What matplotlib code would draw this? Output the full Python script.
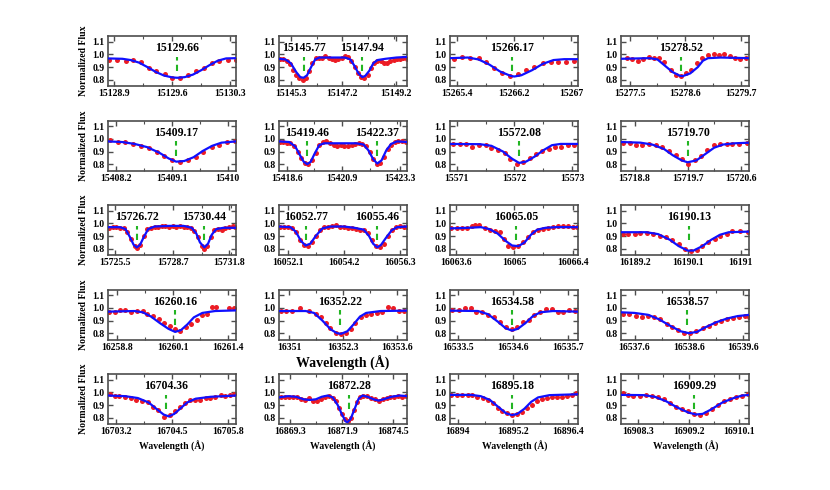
import numpy as np
import matplotlib
matplotlib.use('Agg')
from matplotlib import pyplot as plt
from matplotlib.ticker import AutoMinorLocator

plt.rcParams['font.family'] = ['Liberation Serif', 'DejaVu Serif']
plt.rcParams['font.weight'] = 'bold'
plt.rcParams['axes.labelweight'] = 'bold'

# line centres (labels), one list per panel
centers = [
    [15129.66], [15145.77, 15147.94], [15266.17], [15278.52],
    [15409.17], [15419.46, 15422.37], [15572.08], [15719.70],
    [15726.72, 15730.44], [16052.77, 16055.46], [16065.05], [16190.13],
    [16260.16], [16352.22], [16534.58], [16538.57],
    [16704.36], [16872.28], [16895.18], [16909.29],
]

xticks = [
    [15128.9, 15129.6, 15130.3], [15145.3, 15147.2, 15149.2], [15265.4, 15266.2, 15267], [15277.5, 15278.6, 15279.7],
    [15408.2, 15409.1, 15410], [15418.6, 15420.9, 15423.3], [15571, 15572, 15573], [15718.8, 15719.7, 15720.6],
    [15725.5, 15728.7, 15731.8], [16052.1, 16054.2, 16056.3], [16063.6, 16065, 16066.4], [16189.2, 16190.1, 16191],
    [16258.8, 16260.1, 16261.4], [16351, 16352.3, 16353.6], [16533.5, 16534.6, 16535.7], [16537.6, 16538.6, 16539.6],
    [16703.2, 16704.5, 16705.8], [16869.3, 16871.9, 16874.5], [16894, 16895.2, 16896.4], [16908.3, 16909.2, 16910.1],
]

xlims = [
    (15128.825, 15130.374), (15144.86, 15149.61), (15265.30, 15267.10), (15277.33, 15279.87),
    (15408.07, 15410.14), (15418.27, 15423.63), (15570.88, 15573.11), (15718.57, 15720.75),
    (15725.13, 15732.21), (16051.77, 16056.59), (16063.46, 16066.54), (16188.97, 16191.15),
    (16258.58, 16261.60), (16350.76, 16353.84), (16533.34, 16535.91), (16537.35, 16539.72),
    (16703.00, 16706.00), (16868.75, 16875.20), (16893.83, 16896.63), (16908.00, 16910.28),
]

# observed spectrum (red dots)
obs_wave = [
    [15128.84, 15128.94, 15129.04, 15129.13, 15129.22, 15129.32, 15129.41, 15129.51, 15129.60,
     15129.70, 15129.79, 15129.89, 15129.98, 15130.08, 15130.17, 15130.27, 15130.37],
    [15144.90, 15145.02, 15145.14, 15145.26, 15145.38, 15145.50, 15145.62, 15145.74, 15145.86, 15145.98,
     15146.10, 15146.22, 15146.34, 15146.46, 15146.58, 15146.70, 15146.82, 15146.94, 15147.06, 15147.18,
     15147.30, 15147.42, 15147.54, 15147.66, 15147.78, 15147.90, 15148.02, 15148.14, 15148.26, 15148.38,
     15148.50, 15148.62, 15148.74, 15148.86, 15148.98, 15149.10, 15149.22, 15149.34, 15149.46, 15149.58],
    [15265.35, 15265.47, 15265.58, 15265.70, 15265.81, 15265.91, 15266.03, 15266.14, 15266.25, 15266.37,
     15266.48, 15266.60, 15266.71, 15266.81, 15266.92, 15267.04],
    [15277.44, 15277.55, 15277.66, 15277.76, 15277.88, 15277.98, 15278.09, 15278.19, 15278.31, 15278.41,
     15278.51, 15278.62, 15278.72, 15278.83, 15278.94, 15279.05, 15279.16, 15279.27, 15279.37, 15279.48,
     15279.59, 15279.69, 15279.81],
    [15408.10, 15408.23, 15408.35, 15408.48, 15408.61, 15408.73, 15408.86, 15408.98, 15409.11, 15409.23,
     15409.36, 15409.49, 15409.61, 15409.74, 15409.86, 15409.99, 15410.11],
    [15418.30, 15418.45, 15418.60, 15418.75, 15418.90, 15419.05, 15419.20, 15419.35, 15419.50, 15419.65,
     15419.80, 15419.95, 15420.10, 15420.25, 15420.40, 15420.55, 15420.70, 15420.85, 15421.00, 15421.15,
     15421.30, 15421.45, 15421.60, 15421.75, 15421.90, 15422.05, 15422.20, 15422.35, 15422.50, 15422.65,
     15422.80, 15422.95, 15423.10, 15423.25, 15423.40, 15423.55],
    [15570.93, 15571.06, 15571.15, 15571.26, 15571.38, 15571.50, 15571.60, 15571.71, 15571.83, 15571.93,
     15572.05, 15572.15, 15572.27, 15572.37, 15572.48, 15572.60, 15572.70, 15572.81, 15572.92, 15573.04],
    [15718.61, 15718.72, 15718.82, 15718.93, 15719.05, 15719.16, 15719.26, 15719.39, 15719.51, 15719.61,
     15719.71, 15719.82, 15719.93, 15720.03, 15720.14, 15720.25, 15720.36, 15720.46, 15720.57, 15720.70],
    [15725.20, 15725.40, 15725.60, 15725.80, 15726.00, 15726.20, 15726.40, 15726.60, 15726.75, 15726.90,
     15727.10, 15727.30, 15727.50, 15727.70, 15727.90, 15728.10, 15728.30, 15728.50, 15728.70, 15728.90,
     15729.10, 15729.30, 15729.50, 15729.70, 15729.90, 15730.10, 15730.30, 15730.45, 15730.60, 15730.80,
     15731.00, 15731.20, 15731.40, 15731.60, 15731.80, 15732.00, 15732.15],
    [16051.80, 16051.95, 16052.10, 16052.25, 16052.40, 16052.55, 16052.70, 16052.85, 16053.00, 16053.15,
     16053.30, 16053.45, 16053.60, 16053.75, 16053.90, 16054.05, 16054.20, 16054.35, 16054.50, 16054.65,
     16054.80, 16054.95, 16055.10, 16055.25, 16055.40, 16055.55, 16055.70, 16055.85, 16056.00, 16056.15,
     16056.30, 16056.45, 16056.58],
    [16063.48, 16063.62, 16063.74, 16063.86, 16063.98, 16064.06, 16064.16, 16064.30, 16064.42, 16064.54,
     16064.66, 16064.76, 16064.86, 16064.98, 16065.08, 16065.20, 16065.32, 16065.44, 16065.56, 16065.68,
     16065.80, 16065.92, 16066.04, 16066.16, 16066.28, 16066.40, 16066.50],
    [16189.01, 16189.09, 16189.20, 16189.30, 16189.41, 16189.52, 16189.63, 16189.73, 16189.84, 16189.95,
     16190.06, 16190.16, 16190.26, 16190.35, 16190.45, 16190.56, 16190.65, 16190.76, 16190.86, 16190.99,
     16191.12],
    [16258.61, 16258.74, 16258.87, 16258.99, 16259.13, 16259.26, 16259.40, 16259.51, 16259.64, 16259.77,
     16259.91, 16260.03, 16260.16, 16260.28, 16260.42, 16260.54, 16260.67, 16260.79, 16260.91, 16261.03,
     16261.11, 16261.42, 16261.54],
    [16350.80, 16350.94, 16351.08, 16351.26, 16351.48, 16351.64, 16351.76, 16351.88, 16351.98, 16352.12,
     16352.24, 16352.36, 16352.48, 16352.58, 16352.72, 16352.84, 16352.96, 16353.10, 16353.24, 16353.38,
     16353.50, 16353.64, 16353.76],
    [16533.39, 16533.53, 16533.65, 16533.76, 16533.87, 16533.99, 16534.11, 16534.23, 16534.34, 16534.46,
     16534.58, 16534.68, 16534.80, 16534.92, 16535.03, 16535.14, 16535.26, 16535.38, 16535.50, 16535.61,
     16535.73, 16535.85],
    [16537.38, 16537.49, 16537.62, 16537.73, 16537.84, 16537.95, 16538.07, 16538.19, 16538.30, 16538.41,
     16538.52, 16538.63, 16538.74, 16538.86, 16538.97, 16539.08, 16539.19, 16539.30, 16539.41, 16539.52,
     16539.64, 16539.72],
    [16703.04, 16703.16, 16703.27, 16703.41, 16703.54, 16703.66, 16703.79, 16703.93, 16704.05, 16704.18,
     16704.32, 16704.44, 16704.57, 16704.69, 16704.81, 16704.92, 16705.04, 16705.16, 16705.28, 16705.39,
     16705.51, 16705.63, 16705.74, 16705.86, 16705.94],
    [16868.85, 16869.05, 16869.25, 16869.45, 16869.65, 16869.85, 16870.05, 16870.25, 16870.45, 16870.65,
     16870.85, 16871.05, 16871.25, 16871.45, 16871.60, 16871.75, 16871.90, 16872.05, 16872.20, 16872.35,
     16872.50, 16872.65, 16872.80, 16872.95, 16873.15, 16873.35, 16873.55, 16873.75, 16873.95, 16874.15,
     16874.35, 16874.55, 16874.75, 16874.95, 16875.15],
    [16893.85, 16893.98, 16894.09, 16894.22, 16894.32, 16894.43, 16894.54, 16894.65, 16894.76, 16894.87,
     16894.96, 16895.07, 16895.18, 16895.28, 16895.39, 16895.50, 16895.61, 16895.72, 16895.83, 16895.94,
     16896.06, 16896.16, 16896.27, 16896.38, 16896.49, 16896.58],
    [16908.03, 16908.13, 16908.22, 16908.33, 16908.45, 16908.55, 16908.66, 16908.76, 16908.87, 16908.98,
     16909.08, 16909.19, 16909.29, 16909.40, 16909.51, 16909.61, 16909.72, 16909.82, 16909.93, 16910.04,
     16910.14, 16910.25],
]

obs_flux = [
    [0.956, 0.956, 0.949, 0.956, 0.938, 0.896, 0.865, 0.842, 0.813, 0.815, 0.839, 0.870, 0.896, 0.928,
     0.946, 0.956, 0.954],
    [0.965, 0.960, 0.950, 0.920, 0.880, 0.840, 0.810, 0.800, 0.815, 0.870, 0.930, 0.970, 0.975, 0.975,
     0.985, 0.970, 0.960, 0.955, 0.960, 0.970, 0.985, 0.980, 0.950, 0.900, 0.850, 0.820, 0.810, 0.840,
     0.890, 0.930, 0.950, 0.945, 0.935, 0.930, 0.945, 0.955, 0.960, 0.965, 0.970, 0.965],
    [0.962, 0.977, 0.975, 0.969, 0.938, 0.891, 0.852, 0.831, 0.844, 0.873, 0.901, 0.930, 0.941, 0.943,
     0.936, 0.951],
    [0.969, 0.964, 0.949, 0.962, 0.983, 0.975, 0.975, 0.941, 0.878, 0.834, 0.831, 0.852, 0.878, 0.930,
     0.969, 0.998, 1.003, 0.998, 1.006, 0.988, 0.975, 0.964, 0.969],
    [0.988, 0.977, 0.972, 0.958, 0.940, 0.928, 0.900, 0.865, 0.832, 0.815, 0.832, 0.860, 0.898, 0.932,
     0.955, 0.974, 0.980],
    [0.975, 0.975, 0.970, 0.965, 0.940, 0.900, 0.850, 0.810, 0.800, 0.830, 0.890, 0.950, 0.975, 0.980,
     0.965, 0.955, 0.945, 0.950, 0.940, 0.945, 0.950, 0.960, 0.965, 0.960, 0.940, 0.900, 0.840, 0.800,
     0.810, 0.860, 0.920, 0.955, 0.975, 0.985, 0.980, 0.975],
    [0.962, 0.956, 0.956, 0.935, 0.951, 0.951, 0.925, 0.909, 0.886, 0.839, 0.805, 0.821, 0.847, 0.883,
     0.904, 0.922, 0.935, 0.935, 0.954, 0.951],
    [0.969, 0.969, 0.948, 0.948, 0.962, 0.951, 0.935, 0.904, 0.870, 0.839, 0.805, 0.831, 0.865, 0.909,
     0.948, 0.956, 0.956, 0.962, 0.962, 0.967],
    [0.965, 0.970, 0.975, 0.965, 0.960, 0.935, 0.880, 0.820, 0.805, 0.830, 0.900, 0.955, 0.965, 0.970,
     0.975, 0.980, 0.980, 0.975, 0.980, 0.975, 0.980, 0.975, 0.970, 0.965, 0.940, 0.890, 0.820, 0.800,
     0.820, 0.890, 0.945, 0.955, 0.950, 0.965, 0.975, 0.980, 0.970],
    [0.975, 0.970, 0.975, 0.960, 0.930, 0.870, 0.830, 0.820, 0.850, 0.900, 0.945, 0.970, 0.975, 0.980,
     0.985, 0.975, 0.970, 0.965, 0.960, 0.955, 0.950, 0.945, 0.920, 0.870, 0.820, 0.810, 0.840, 0.900,
     0.950, 0.970, 0.980, 0.975, 0.970],
    [0.960, 0.960, 0.960, 0.965, 0.980, 0.985, 0.990, 0.965, 0.950, 0.940, 0.930, 0.875, 0.820, 0.815,
     0.820, 0.850, 0.890, 0.930, 0.945, 0.955, 0.960, 0.975, 0.980, 0.980, 0.980, 0.975, 0.970],
    [0.917, 0.912, 0.912, 0.922, 0.922, 0.912, 0.904, 0.896, 0.865, 0.839, 0.800, 0.785, 0.790, 0.820,
     0.850, 0.880, 0.900, 0.912, 0.943, 0.943, 0.930],
    [0.968, 0.968, 0.984, 0.982, 0.968, 0.974, 0.974, 0.955, 0.934, 0.913, 0.882, 0.855, 0.830, 0.820,
     0.850, 0.876, 0.908, 0.947, 0.955, 1.003, 1.008, 0.997, 0.995],
    [0.974, 0.974, 0.976, 0.997, 0.976, 0.955, 0.924, 0.882, 0.837, 0.800, 0.795, 0.800, 0.835, 0.882,
     0.924, 0.942, 0.955, 0.963, 0.968, 1.003, 0.997, 0.976, 0.974],
    [0.982, 0.982, 0.995, 0.995, 0.968, 0.968, 0.947, 0.924, 0.889, 0.850, 0.832, 0.845, 0.889, 0.908,
     0.947, 0.968, 0.992, 0.992, 0.968, 0.968, 0.982, 0.976],
    [0.952, 0.950, 0.935, 0.930, 0.932, 0.925, 0.910, 0.870, 0.845, 0.825, 0.800, 0.800, 0.815, 0.840,
     0.860, 0.878, 0.895, 0.910, 0.918, 0.925, 0.935, 0.930],
    [0.984, 0.968, 0.968, 0.963, 0.955, 0.942, 0.932, 0.924, 0.884, 0.858, 0.805, 0.818, 0.850, 0.884,
     0.918, 0.937, 0.937, 0.942, 0.958, 0.958, 0.963, 0.976, 0.971, 0.976, 0.984],
    [0.960, 0.965, 0.965, 0.960, 0.965, 0.950, 0.940, 0.955, 0.935, 0.930, 0.950, 0.965, 0.970, 0.955,
     0.930, 0.880, 0.830, 0.790, 0.770, 0.800, 0.860, 0.920, 0.960, 0.975, 0.970, 0.955, 0.945, 0.935,
     0.945, 0.955, 0.960, 0.965, 0.970, 0.965, 0.970],
    [0.981, 0.981, 0.981, 0.981, 0.981, 0.967, 0.959, 0.941, 0.914, 0.880, 0.856, 0.835, 0.821, 0.829,
     0.848, 0.875, 0.901, 0.928, 0.946, 0.959, 0.965, 0.967, 0.967, 0.973, 0.981, 0.994],
    [0.994, 0.981, 0.973, 0.975, 0.981, 0.973, 0.962, 0.945, 0.915, 0.885, 0.865, 0.850, 0.830, 0.825,
     0.840, 0.870, 0.900, 0.930, 0.945, 0.960, 0.975, 0.985],
]

# synthetic fit (blue line)
fit_wave = [
    [15128.82, 15129.00, 15129.10, 15129.20, 15129.30, 15129.40, 15129.50, 15129.60, 15129.66, 15129.75,
     15129.85, 15129.95, 15130.05, 15130.15, 15130.25, 15130.37],
    [15144.86, 15145.10, 15145.30, 15145.50, 15145.65, 15145.77, 15145.90, 15146.05, 15146.20, 15146.35,
     15146.80, 15147.30, 15147.50, 15147.65, 15147.80, 15147.94, 15148.05, 15148.20, 15148.35, 15148.50,
     15148.80, 15149.20, 15149.61],
    [15265.30, 15265.55, 15265.70, 15265.85, 15266.00, 15266.15, 15266.20, 15266.30, 15266.45, 15266.60,
     15266.75, 15266.90, 15267.10],
    [15277.33, 15277.90, 15278.05, 15278.20, 15278.35, 15278.50, 15278.55, 15278.70, 15278.85, 15278.95,
     15279.05, 15279.30, 15279.87],
    [15408.07, 15408.30, 15408.50, 15408.70, 15408.90, 15409.05, 15409.17, 15409.30, 15409.45, 15409.60,
     15409.75, 15409.90, 15410.14],
    [15418.27, 15418.70, 15418.95, 15419.15, 15419.30, 15419.45, 15419.60, 15419.75, 15419.95, 15420.15,
     15420.50, 15421.00, 15421.50, 15421.80, 15422.00, 15422.20, 15422.37, 15422.55, 15422.75, 15422.95,
     15423.20, 15423.63],
    [15570.88, 15571.40, 15571.60, 15571.80, 15571.95, 15572.08, 15572.20, 15572.35, 15572.50, 15572.65,
     15572.80, 15573.11],
    [15718.57, 15718.90, 15719.10, 15719.30, 15719.45, 15719.60, 15719.70, 15719.85, 15720.00, 15720.15,
     15720.30, 15720.50, 15720.75],
    [15725.13, 15725.80, 15726.10, 15726.35, 15726.55, 15726.72, 15726.90, 15727.10, 15727.35, 15727.70,
     15728.50, 15729.30, 15729.75, 15730.00, 15730.20, 15730.44, 15730.65, 15730.85, 15731.10, 15731.50,
     15732.21],
    [16051.77, 16052.20, 16052.40, 16052.60, 16052.77, 16052.95, 16053.15, 16053.40, 16053.70, 16054.20,
     16054.60, 16054.95, 16055.15, 16055.30, 16055.46, 16055.60, 16055.80, 16056.00, 16056.20, 16056.59],
    [16063.46, 16063.90, 16064.20, 16064.40, 16064.60, 16064.80, 16064.95, 16065.10, 16065.25, 16065.40,
     16065.55, 16065.75, 16066.00, 16066.54],
    [16188.97, 16189.40, 16189.60, 16189.80, 16189.95, 16190.10, 16190.20, 16190.35, 16190.50, 16190.65,
     16190.80, 16191.15],
    [16258.58, 16259.20, 16259.40, 16259.60, 16259.80, 16260.00, 16260.16, 16260.30, 16260.45, 16260.60,
     16260.80, 16261.10, 16261.60],
    [16350.76, 16351.40, 16351.60, 16351.80, 16352.00, 16352.15, 16352.25, 16352.40, 16352.55, 16352.70,
     16352.85, 16353.20, 16353.84],
    [16533.34, 16533.90, 16534.10, 16534.30, 16534.45, 16534.58, 16534.70, 16534.85, 16535.00, 16535.15,
     16535.40, 16535.91],
    [16537.35, 16537.60, 16537.85, 16538.05, 16538.25, 16538.45, 16538.60, 16538.75, 16538.90, 16539.10,
     16539.30, 16539.50, 16539.72],
    [16703.00, 16703.40, 16703.70, 16703.95, 16704.15, 16704.30, 16704.42, 16704.55, 16704.70, 16704.85,
     16705.05, 16705.40, 16706.00],
    [16868.75, 16869.20, 16869.60, 16870.00, 16870.30, 16870.60, 16870.90, 16871.20, 16871.45, 16871.70,
     16871.90, 16872.10, 16872.20, 16872.35, 16872.55, 16872.75, 16872.95, 16873.20, 16873.50, 16873.75,
     16874.00, 16874.40, 16874.80, 16875.20],
    [16893.83, 16894.30, 16894.50, 16894.70, 16894.90, 16895.05, 16895.18, 16895.30, 16895.45, 16895.60,
     16895.75, 16896.00, 16896.63],
    [16908.00, 16908.40, 16908.60, 16908.80, 16909.00, 16909.20, 16909.33, 16909.45, 16909.60, 16909.80,
     16910.00, 16910.15, 16910.28],
]

fit_flux = [
    [0.968, 0.965, 0.955, 0.935, 0.900, 0.862, 0.833, 0.818, 0.815, 0.820, 0.840, 0.875, 0.915, 0.950,
     0.968, 0.970],
    [0.965, 0.960, 0.930, 0.860, 0.820, 0.815, 0.835, 0.900, 0.960, 0.975, 0.975, 0.975, 0.960, 0.910,
     0.850, 0.820, 0.830, 0.870, 0.930, 0.955, 0.965, 0.975, 0.980],
    [0.970, 0.975, 0.960, 0.920, 0.865, 0.830, 0.825, 0.835, 0.875, 0.925, 0.955, 0.962, 0.962],
    [0.965, 0.970, 0.960, 0.910, 0.860, 0.830, 0.828, 0.850, 0.900, 0.950, 0.970, 0.975, 0.970],
    [0.980, 0.975, 0.960, 0.935, 0.890, 0.845, 0.820, 0.825, 0.855, 0.905, 0.945, 0.970, 0.980],
    [0.980, 0.975, 0.940, 0.870, 0.820, 0.800, 0.820, 0.880, 0.950, 0.965, 0.965, 0.965, 0.965, 0.955,
     0.910, 0.840, 0.805, 0.830, 0.910, 0.960, 0.980, 0.975],
    [0.960, 0.958, 0.945, 0.900, 0.845, 0.810, 0.820, 0.860, 0.910, 0.950, 0.960, 0.960],
    [0.975, 0.970, 0.955, 0.920, 0.870, 0.830, 0.815, 0.830, 0.880, 0.930, 0.955, 0.965, 0.970],
    [0.970, 0.970, 0.955, 0.890, 0.830, 0.810, 0.830, 0.890, 0.955, 0.975, 0.980, 0.980, 0.965, 0.920,
     0.850, 0.810, 0.840, 0.910, 0.955, 0.965, 0.965],
    [0.975, 0.970, 0.935, 0.860, 0.825, 0.840, 0.900, 0.960, 0.975, 0.975, 0.965, 0.950, 0.900, 0.840,
     0.810, 0.830, 0.890, 0.945, 0.970, 0.975],
    [0.960, 0.965, 0.970, 0.955, 0.920, 0.860, 0.825, 0.820, 0.850, 0.910, 0.950, 0.965, 0.970, 0.970],
    [0.930, 0.930, 0.915, 0.870, 0.820, 0.785, 0.785, 0.820, 0.870, 0.910, 0.930, 0.935],
    [0.970, 0.975, 0.965, 0.930, 0.880, 0.835, 0.810, 0.825, 0.870, 0.925, 0.960, 0.975, 0.980],
    [0.975, 0.975, 0.960, 0.900, 0.830, 0.800, 0.795, 0.815, 0.870, 0.930, 0.960, 0.975, 0.978],
    [0.978, 0.975, 0.950, 0.890, 0.840, 0.820, 0.835, 0.880, 0.935, 0.965, 0.975, 0.970],
    [0.965, 0.960, 0.945, 0.910, 0.860, 0.815, 0.800, 0.810, 0.845, 0.885, 0.915, 0.935, 0.945],
    [0.975, 0.970, 0.955, 0.920, 0.865, 0.825, 0.810, 0.830, 0.875, 0.920, 0.950, 0.965, 0.975],
    [0.960, 0.970, 0.965, 0.945, 0.940, 0.945, 0.965, 0.975, 0.960, 0.900, 0.830, 0.770, 0.765, 0.790,
     0.870, 0.950, 0.975, 0.965, 0.945, 0.935, 0.945, 0.965, 0.975, 0.970],
    [0.980, 0.980, 0.970, 0.940, 0.880, 0.835, 0.820, 0.830, 0.870, 0.925, 0.960, 0.978, 0.985],
    [0.980, 0.978, 0.965, 0.930, 0.880, 0.840, 0.825, 0.830, 0.865, 0.920, 0.955, 0.975, 0.980],
]

MARK_LO, MARK_HI = 0.865, 0.98
LABEL_Y = 1.05
SPINE = '#4d4d4d'

fig = plt.figure(figsize=(8.3, 4.9), dpi=100)
gs = fig.add_gridspec(5, 4, left=0.130, right=0.903, top=0.9265, bottom=0.1347,
                      wspace=0.331, hspace=0.69)

for i in range(len(centers)):
    r, c = divmod(i, 4)
    ax = fig.add_subplot(gs[r, c])
    ax.plot(obs_wave[i], obs_flux[i], 'o', color='#ec1c24', ms=3.6, mec='none', zorder=2)
    ax.plot(fit_wave[i], fit_flux[i], '-', color='#1010ff', lw=1.6, zorder=3)
    for w in centers[i]:
        ax.vlines(w, MARK_LO, MARK_HI, colors='#22b522', linestyles=(0, (3, 2)), lw=1.5, zorder=4)
        ax.text(w, LABEL_Y, '%.2f' % w, ha='center', va='center', fontsize=8.5, fontweight='bold')

    ax.set_xlim(*xlims[i])
    ax.set_ylim(0.75, 1.145)
    ax.set_xticks(xticks[i])
    ax.set_xticklabels(['%g' % t for t in xticks[i]])
    ax.set_yticks([0.8, 0.9, 1.0, 1.1])
    ax.set_yticklabels(['0.8', '0.9', '1.0', '1.1'])
    ax.xaxis.set_minor_locator(AutoMinorLocator(2))
    ax.tick_params(which='major', direction='in', top=True, right=True, length=3.5, width=1.0,
                   color=SPINE, labelsize=7, pad=2.5)
    ax.tick_params(which='minor', direction='in', top=True, right=True, length=2, width=0.8,
                   color=SPINE)
    for s in ax.spines.values():
        s.set_color(SPINE)
        s.set_linewidth(1.2)

    if c == 0:
        ax.set_ylabel('Normalized Flux', fontsize=7, labelpad=3)
    if r == 4:
        ax.set_xlabel('Wavelength (Å)', fontsize=7, labelpad=3)
    if r == 3 and c == 1:
        ax.set_xlabel('Wavelength (Å)', fontsize=10, labelpad=3)

fig.savefig('out.png', dpi=100)
